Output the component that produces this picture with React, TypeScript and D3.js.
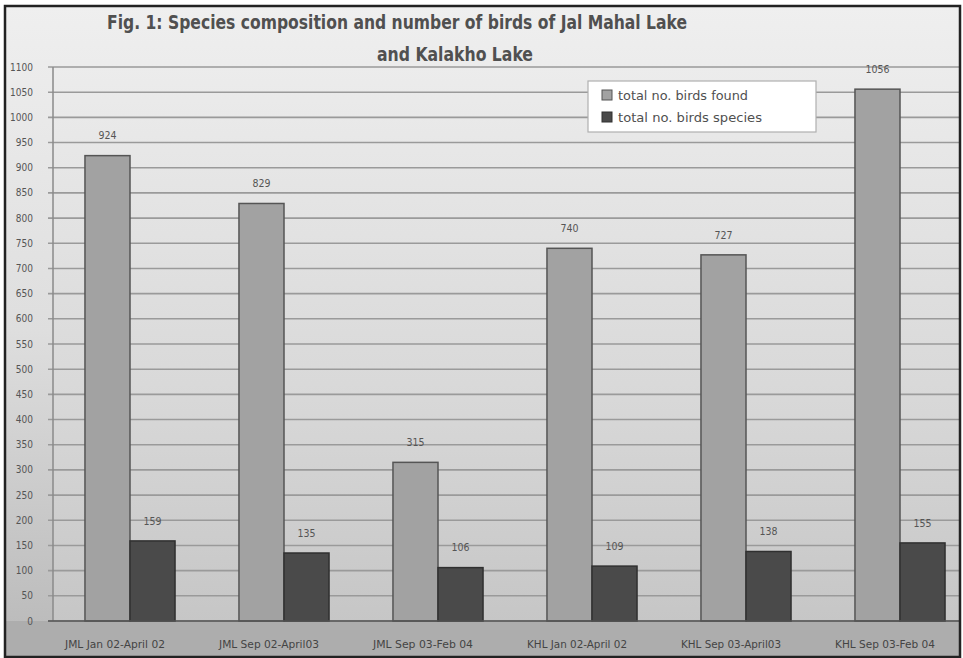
import React from "react";
import * as d3 from "d3";

const categories = [
  "JML Jan 02-April 02",
  "JML Sep 02-April03",
  "JML Sep 03-Feb 04",
  "KHL Jan 02-April 02",
  "KHL Sep 03-April03",
  "KHL Sep 03-Feb 04",
];
const birdsFound = [924, 829, 315, 740, 727, 1056];
const birdSpecies = [159, 135, 106, 109, 138, 155];
const seriesNames = ["total no. birds found", "total no. birds species"];
const yTicks = d3.range(0, 1101, 50);

const W = 963;
const H = 658;
const frame = { left: 5, top: 6, right: 960, bottom: 657 };
const plot = { left: 53, right: 977, top: 67, bottom: 621 };
const FONT = "'Liberation Sans Narrow', 'Arial Narrow', 'DejaVu Sans Condensed', 'Liberation Sans', sans-serif";

export default function App() {
  const y = d3.scaleLinear().domain([0, 1100]).range([plot.bottom, plot.top]);
  const x0 = d3.scaleBand<string>().domain(categories).range([plot.left, plot.right]).padding(0);
  const x1 = d3
    .scaleBand<string>()
    .domain(seriesNames)
    .range([0, x0.bandwidth()])
    .paddingInner(0)
    .paddingOuter(0.71);

  const series = [
    { name: seriesNames[0], values: birdsFound, fill: "#a2a2a2", stroke: "#555", textLen: 130 },
    { name: seriesNames[1], values: birdSpecies, fill: "#4a4a4a", stroke: "#303030", textLen: 144 },
  ];

  return (
    <div style={{ position: "fixed", left: 0, top: 0 }}>
      <svg width={W} height={H} style={{ display: "block" }}>
        <defs>
          <linearGradient id="bg" x1="0" y1="0" x2="0" y2="1">
            <stop offset="0" stopColor="#efefef" />
            <stop offset="0.5" stopColor="#dedede" />
            <stop offset="1" stopColor="#b8b8b8" />
          </linearGradient>
          <linearGradient id="plotbg" x1="0" y1="0" x2="0" y2="1">
            <stop offset="0" stopColor="#ececec" />
            <stop offset="0.6" stopColor="#d8d8d8" />
            <stop offset="1" stopColor="#c6c6c6" />
          </linearGradient>
          <clipPath id="frameClip">
            <rect x={frame.left} y={frame.top} width={frame.right - frame.left} height={frame.bottom - frame.top} />
          </clipPath>
        </defs>
        <rect x={0} y={0} width={W} height={H} fill="#ffffff" />
        <g clipPath="url(#frameClip)">
          <rect x={frame.left} y={frame.top} width={frame.right - frame.left} height={frame.bottom - frame.top} fill="url(#bg)" />
          <rect x={frame.left} y={plot.bottom} width={frame.right - frame.left} height={frame.bottom - plot.bottom} fill="#adadad" />
          <rect x={plot.left} y={plot.top} width={plot.right - plot.left} height={plot.bottom - plot.top} fill="url(#plotbg)" />

          {/* horizontal gridlines and ticks */}
          {yTicks.map((t) => (
            <g key={t}>
              <line x1={plot.left - 5} x2={plot.right} y1={y(t)} y2={y(t)} stroke="#9a9a9a" strokeWidth={1.6} />
              <text
                x={33}
                y={y(t)}
                dy="0.35em"
                textAnchor="end"
                fontFamily={FONT}
                fontSize={10}
                fill="#555"
              >
                {t}
              </text>
            </g>
          ))}
          <line x1={plot.left} x2={plot.left} y1={plot.top} y2={plot.bottom} stroke="#8a8a8a" strokeWidth={1.5} />

          {/* bars */}
          {series.map((s) =>
            categories.map((c, i) => {
              const bx = (x0(c) ?? 0) + (x1(s.name) ?? 0);
              const bw = x1.bandwidth();
              const v = s.values[i];
              return (
                <g key={s.name + c}>
                  <rect
                    x={bx}
                    y={y(v)}
                    width={bw}
                    height={plot.bottom - y(v)}
                    fill={s.fill}
                    stroke={s.stroke}
                    strokeWidth={1.5}
                  />
                  <text
                    x={bx + bw / 2}
                    y={y(v) - 20}
                    dy="0.35em"
                    textAnchor="middle"
                    fontFamily={FONT}
                    fontSize={10.5}
                    fill="#555"
                  >
                    {v}
                  </text>
                </g>
              );
            })
          )}
          <line x1={plot.left - 5} x2={plot.right} y1={plot.bottom} y2={plot.bottom} stroke="#555" strokeWidth={1.5} />

          {/* category labels */}
          {categories.map((c) => (
            <text
              key={c}
              x={(x0(c) ?? 0) + x0.bandwidth() / 2 - 15}
              y={644}
              dy="0.35em"
              textAnchor="middle"
              fontFamily={FONT}
              fontSize={10.5}
              fill="#444"
              textLength={100}
              lengthAdjust="spacingAndGlyphs"
            >
              {c}
            </text>
          ))}

          {/* title */}
          <text x={397} y={29} textAnchor="middle" fontFamily={FONT} fontWeight="bold" fontSize={19} fill="#505050" textLength={580} lengthAdjust="spacingAndGlyphs">
            Fig. 1: Species composition and number of birds of Jal Mahal Lake
          </text>
          <text x={455} y={61} textAnchor="middle" fontFamily={FONT} fontWeight="bold" fontSize={19} fill="#505050" textLength={156} lengthAdjust="spacingAndGlyphs">
            and Kalakho Lake
          </text>

          {/* legend */}
          <rect x={588} y={81} width={228} height={51} fill="#ffffff" stroke="#b0b0b0" strokeWidth={1.2} />
          {series.map((s, i) => (
            <g key={s.name} transform={`translate(602, ${95 + i * 22})`}>
              <rect x={0} y={-5} width={10} height={10} fill={s.fill} stroke={s.stroke} strokeWidth={1} />
              <text
                x={16}
                y={0}
                dy="0.35em"
                fontFamily={FONT}
                fontSize={13}
                fill="#505050"
                textLength={s.textLen}
                lengthAdjust="spacingAndGlyphs"
              >
                {s.name}
              </text>
            </g>
          ))}
        </g>
        <rect
          x={frame.left}
          y={frame.top}
          width={frame.right - frame.left}
          height={frame.bottom - frame.top}
          fill="none"
          stroke="#222"
          strokeWidth={2.5}
        />
      </svg>
    </div>
  );
}
